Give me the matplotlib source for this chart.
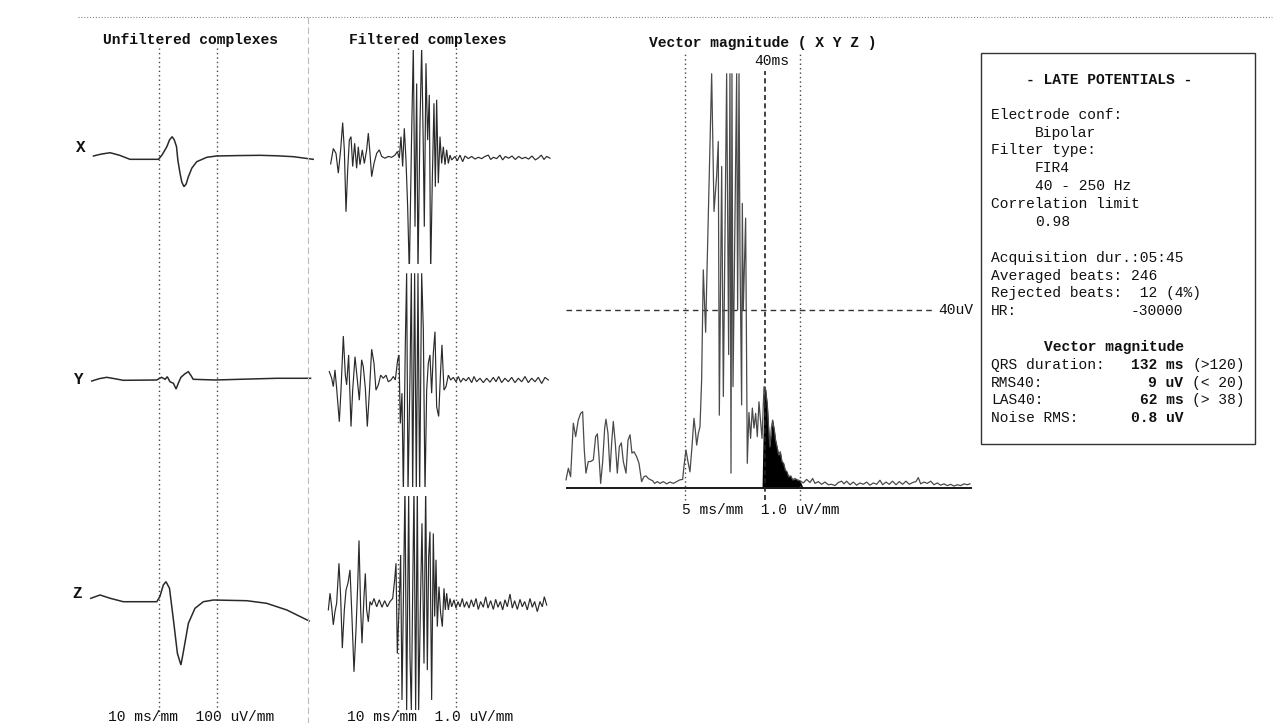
import matplotlib
matplotlib.use("Agg")
import matplotlib.pyplot as plt
from matplotlib.lines import Line2D
from matplotlib.patches import Rectangle

# ---------------- data (time in ms from QRS onset, amplitude in uV) ----------------
qrs_duration_ms = 132
las_window_ms = 40
threshold_uv = 40

unf_x = [(-148, 46), (-130, 90), (-110, 120), (-88, 60), (-65, -30), (-30, -30), (0, -30),
         (8, 68), (19, 257), (25, 410), (31, 485), (36, 410), (41, 257), (44, -46), (49, -348),
         (53, -546), (58, -653), (63, -590), (68, -426), (76, -228), (87, -84), (110, 16),
         (132, 46), (180, 55), (231, 61), (270, 50), (307, 30), (352, -30)]
unf_y = [(-152, -23), (-135, 30), (-118, 61), (-100, 30), (-80, -7), (-4, 0), (7, 61), (15, 16),
         (20, 75), (26, -39), (34, -75), (40, -205), (45, -75), (51, 61), (60, 140), (68, 189),
         (74, 100), (79, 16), (129, 0), (185, 16), (269, 39), (346, 39)]
unf_z = [(-154, 73), (-133, 148), (-110, 73), (-80, -5), (-4, -5), (3, 109), (11, 376), (17, 451),
         (25, 300), (34, -421), (43, -1179), (51, -1445), (56, -1179), (68, -496), (83, -155),
         (102, -5), (125, 34), (201, 18), (246, -41), (292, -193), (343, -444)]

filt_x = [(-152.1, -1.5), (-146.1, 2.0), (-140.0, 0.9), (-134.7, -3.6), (-129.4, 1.7), (-124.8, 7.9),
          (-121.0, 1.7), (-117.2, -12.4), (-113.4, -2.9), (-109.6, 3.9), (-105.8, 4.7), (-102.0, -2.1),
          (-97.5, 3.2), (-93.0, -2.5), (-89.2, 2.4), (-85.4, -1.7), (-80.1, 1.7), (-75.5, -1.4),
          (-70.2, 1.7), (-66.4, 5.5), (-62.6, 0.9), (-58.8, -4.4), (-53.5, -1.4), (-47.4, 0.9),
          (-41.4, 1.7), (-36.1, 0.2), (-28.5, -0.2), (-20.9, 0.2), (-13.3, 0.0), (-5.7, 0.5),
          (-0.4, 1.3), (4.1, -0.2), (7.9, 4.7), (11.7, -2.1), (15.5, 6.6), (19.3, -0.6), (23.1, -11.2),
          (26.9, -26.4), (32.2, 5.5), (36.0, 25.2), (39.8, -15.8), (43.6, 16.8), (46.6, -26.4),
          (51.2, 7.7), (55.0, 25.2), (58.8, 1.7), (61.0, -15.8), (64.8, 21.4), (68.6, 3.9),
          (72.4, 14.2), (75.5, -26.4), (79.2, -5.2), (83.0, 12.3), (86.1, -6.7), (89.1, 13.1),
          (92.9, -5.9), (96.7, 4.7), (100.5, -1.4), (104.3, 2.4), (108.1, -1.7), (111.9, 1.7),
          (115.7, -1.4), (119.5, 0.5), (123.3, -0.6), (130.8, 0.2), (136.1, -0.8), (142.2, 0.5),
          (148.3, -1.0), (153.6, 0.3), (161.2, -0.3), (168.8, 0.2), (176.4, -0.4), (183.9, 0.0),
          (191.5, -0.3), (199.1, 0.2), (206.7, 0.5), (212.0, -0.5), (218.1, 0.0), (225.7, -0.3),
          (233.2, 0.5), (239.3, -0.6), (245.4, 0.2), (253.0, -0.2), (260.6, 0.3), (268.1, -0.5),
          (275.7, 0.2), (283.3, -0.3), (290.9, 0.0), (298.5, -0.4), (306.1, 0.3), (313.7, -0.6),
          (321.2, -0.1), (327.3, 0.5), (333.4, -0.5), (339.5, 0.2), (347.0, -0.2)]
filt_y = [(-155.2, 1.9), (-149.8, 0.4), (-146.1, -1.5), (-142.3, 2.3), (-138.5, -1.9), (-132.4, -9.5),
          (-128.6, -2.3), (-123.3, 10.0), (-118.7, 1.1), (-115.7, -1.1), (-111.2, 5.7), (-105.8, -10.6),
          (-102.0, -2.3), (-96.7, 5.3), (-91.4, 0.0), (-86.9, -4.6), (-81.6, 4.6), (-77.8, 3.0),
          (-73.2, -1.9), (-68.7, -10.6), (-64.1, -3.0), (-58.8, 7.0), (-53.5, 3.8), (-49.0, -2.3),
          (-43.6, -1.1), (-38.3, 1.1), (-32.3, 0.4), (-26.2, 1.1), (-20.9, -0.4), (-14.8, 0.0),
          (-9.5, 0.8), (-5.0, 0.0), (0.4, 4.6), (3.4, 5.7), (6.4, -9.9), (10.2, -3.0), (13.3, -25.8),
          (17.8, 8.3), (20.8, 24.3), (23.9, -25.8), (28.4, 0.8), (31.5, 24.3), (34.5, -25.8),
          (39.0, 24.3), (42.8, -25.8), (46.6, 24.3), (50.4, -25.8), (55.0, 24.3), (58.8, 11.4),
          (62.6, -25.8), (66.4, -2.3), (70.1, 3.8), (73.9, 5.7), (77.7, -3.0), (81.5, 6.1),
          (85.3, 11.0), (89.1, -6.1), (93.7, -8.3), (98.2, 2.3), (101.2, 8.0), (105.8, -2.3),
          (110.4, -1.5), (115.7, 1.1), (121.0, 0.0), (127.0, 0.6), (133.1, -0.4), (138.4, 0.8),
          (143.7, -0.5), (149.8, 0.4), (155.9, -0.2), (161.9, 0.6), (168.8, -0.6), (174.1, 0.8),
          (180.1, -0.4), (187.7, 0.4), (195.3, -0.6), (202.9, 0.4), (210.5, -0.5), (218.1, 0.6),
          (224.1, -0.4), (230.2, 0.8), (237.0, -0.6), (244.6, 0.4), (252.2, -0.4), (259.8, 0.6),
          (267.4, -0.6), (275.0, 0.4), (282.6, -0.4), (290.1, 0.8), (297.7, -0.6), (305.3, 0.4),
          (312.9, -0.4), (320.5, 0.6), (328.1, -0.8), (335.7, 0.6), (343.2, 0.0)]
filt_z = [(-157.4, -1.5), (-153.6, 2.3), (-149.8, -0.8), (-146.1, -4.9), (-142.3, -1.9), (-138.5, 0.0),
          (-133.2, 9.1), (-129.4, 1.5), (-125.6, -10.2), (-121.0, -1.5), (-117.2, 3.0), (-112.7, 4.6),
          (-108.1, 7.6), (-104.3, -1.5), (-99.0, -15.6), (-94.5, -6.1), (-90.7, 3.8), (-87.6, 14.3),
          (-83.8, -1.5), (-80.8, -9.1), (-76.3, 1.5), (-73.2, 6.8), (-70.2, -1.5), (-66.4, -4.2),
          (-62.6, 0.4), (-58.8, -0.4), (-53.5, 1.1), (-47.4, -0.8), (-41.4, 0.8), (-35.3, -0.9),
          (-29.2, 0.6), (-23.2, -0.8), (-17.1, 0.4), (-11.0, 1.1), (-6.5, 5.3), (-3.4, 9.1),
          (-0.4, -11.4), (3.4, -1.5), (7.2, 11.0), (10.2, -22.0), (13.3, 0.0), (17.0, 26.9),
          (20.8, -24.3), (25.4, 24.7), (28.4, -12.1), (31.5, -24.3), (34.5, 2.3), (37.5, 26.9),
          (41.3, -24.3), (45.1, 26.9), (48.1, -24.3), (52.7, 2.3), (55.7, 18.2), (60.3, -13.7),
          (64.1, 26.9), (67.9, -15.2), (70.9, 10.6), (73.9, 16.3), (77.7, -22.0), (81.5, 15.9),
          (84.6, -3.0), (87.6, 9.9), (90.6, -5.3), (94.4, 3.8), (98.2, -2.3), (102.0, -5.3),
          (105.8, 3.4), (108.8, -1.5), (111.9, 2.3), (115.7, -1.5), (119.5, 1.1), (123.3, -0.8),
          (128.6, 0.8), (133.1, -1.1), (137.7, 0.4), (142.2, -0.8), (147.5, 1.1), (152.1, -0.9),
          (157.4, 0.4), (162.7, -1.1), (168.0, 0.8), (173.3, -0.8), (178.6, 1.1), (183.9, -1.4),
          (189.2, 0.4), (195.3, -0.9), (200.6, 1.5), (205.9, -1.1), (212.0, 0.6), (218.1, -1.4),
          (223.4, 0.9), (228.7, -0.9), (234.0, 0.4), (239.3, -1.5), (244.6, 0.8), (249.9, -0.8),
          (256.0, 2.1), (261.3, -1.1), (266.6, 0.6), (272.7, -1.4), (278.8, 0.9), (284.0, -0.8),
          (289.4, 0.4), (295.4, -1.5), (301.5, 1.1), (306.8, -0.9), (312.1, 0.4), (318.2, -1.9),
          (324.3, 0.4), (329.6, -0.8), (334.1, 1.5), (339.5, -0.4)]

vector_mag = [(-136.6, 1.9), (-133.9, 4.5), (-131.3, 2.6), (-128.2, 14.6), (-125.5, 11.6), (-122.5, 15.3),
              (-119.8, 16.8), (-117.5, 17.2), (-115.6, 8.6), (-113.7, 3.4), (-111.0, 6.0), (-108.3, 6.0),
              (-105.2, 6.4), (-102.6, 11.6), (-100.6, 12.2), (-98.7, 7.1), (-96.8, 1.1), (-94.5, 6.0),
              (-92.2, 13.5), (-90.7, 15.5), (-88.4, 12.3), (-86.1, 3.7), (-84.2, 10.1), (-82.3, 15.0),
              (-80.0, 10.1), (-77.7, 3.4), (-75.4, 9.3), (-73.1, 10.2), (-70.8, 6.0), (-67.7, 3.4),
              (-65.4, 10.8), (-63.1, 12.0), (-60.9, 7.9), (-58.6, 8.2), (-55.5, 7.1), (-52.8, 5.6),
              (-49.8, 1.5), (-47.1, 2.6), (-44.8, 2.8), (-42.1, 2.2), (-39.4, 1.9), (-37.1, 1.7),
              (-34.8, 1.1), (-31.8, 1.5), (-28.7, 1.1), (-24.9, 1.5), (-21.1, 1.0), (-17.2, 1.4),
              (-13.4, 1.1), (-9.6, 1.5), (-5.8, 1.9), (-2.7, 2.0), (-1.2, 4.9), (1.1, 8.6), (3.4, 6.0),
              (5.7, 3.7), (8.0, 9.3), (10.3, 15.7), (11.8, 13.1), (13.4, 9.7), (15.3, 12.3), (17.2, 13.8),
              (19.1, 24.3), (21.0, 49.0), (23.7, 35.0), (24.8, 45.0), (30.6, 93.0), (33.3, 62.1),
              (36.3, 70.0), (38.2, 77.8), (39.4, 16.4), (42.1, 72.2), (44.0, 20.6), (47.8, 93.0),
              (50.1, 30.0), (51.6, 93.0), (52.8, 3.4), (53.9, 93.0), (55.1, 22.8), (59.3, 93.0),
              (60.4, 40.0), (62.0, 93.0), (63.1, 52.7), (65.0, 18.7), (65.8, 63.9), (66.9, 40.0),
              (69.6, 60.6), (71.5, 5.6), (73.4, 17.0), (75.3, 11.2), (77.3, 18.0), (79.2, 13.5),
              (81.1, 16.8), (83.0, 11.6), (84.9, 19.4), (86.8, 15.0), (88.4, 11.2), (90.7, 22.8),
              (92.6, 22.1), (94.5, 18.7), (96.4, 12.3), (97.5, 9.3), (99.1, 13.5), (100.6, 15.3),
              (102.5, 13.1), (104.0, 10.8), (106.0, 9.0), (107.5, 7.5), (109.4, 8.2), (111.3, 6.0),
              (113.2, 5.6), (115.1, 4.1), (117.1, 3.7), (119.0, 2.6), (121.3, 2.8), (123.6, 1.9),
              (126.2, 2.2), (128.9, 1.9), (132.0, 1.7), (135.8, 1.2), (139.6, 2.0), (143.5, 1.3),
              (146.5, 2.2), (149.2, 1.1), (153.0, 1.5), (156.8, 0.9), (160.7, 1.4), (164.5, 0.8),
              (168.3, 0.9), (172.1, 0.6), (176.0, 1.3), (179.8, 1.6), (182.5, 1.0), (185.5, 1.6),
              (189.4, 0.8), (193.2, 1.4), (197.0, 0.7), (200.8, 1.2), (204.7, 0.9), (208.5, 1.4),
              (212.3, 0.7), (216.1, 1.2), (220.0, 0.9), (223.8, 1.8), (226.9, 0.8), (230.7, 1.4),
              (234.5, 0.9), (238.3, 1.6), (242.2, 0.8), (246.0, 1.5), (249.8, 0.9), (253.6, 1.6),
              (257.5, 0.9), (261.3, 1.3), (265.1, 1.5), (267.8, 2.4), (270.5, 1.0), (274.3, 1.4),
              (278.1, 1.1), (282.0, 1.6), (285.8, 0.8), (289.6, 1.2), (293.4, 0.7), (297.3, 1.0),
              (301.1, 0.6), (304.9, 0.9), (308.7, 0.5), (312.6, 0.8), (316.4, 0.6), (320.2, 1.0),
              (324.0, 0.8), (327.1, 1.0)]

lead_names = ["X", "Y", "Z"]
titles = ["Unfiltered complexes", "Filtered complexes", "Vector magnitude ( X Y Z )"]
scale_labels = ["10 ms/mm  100 uV/mm", "10 ms/mm  1.0 uV/mm", "5 ms/mm  1.0 uV/mm"]

report_lines = [
    (80, [(4, "- LATE POTENTIALS -", True)]),
    (115, [(0, "Electrode conf:", False)]),
    (133, [(5, "Bipolar", False)]),
    (150, [(0, "Filter type:", False)]),
    (168, [(5, "FIR4", False)]),
    (186, [(5, "40 - 250 Hz", False)]),
    (204, [(0, "Correlation limit", False)]),
    (222, [(5, "0.98", False)]),
    (258, [(0, "Acquisition dur.:05:45", False)]),
    (276, [(0, "Averaged beats: 246", False)]),
    (293, [(0, "Rejected beats:  12 (4%)", False)]),
    (311, [(0, "HR:", False), (16, "-30000", False)]),
    (347, [(6, "Vector magnitude", True)]),
    (365, [(0, "QRS duration:", False), (16, "132 ms", True), (23, "(>120)", False)]),
    (383, [(0, "RMS40:", False), (18, "9 uV", True), (23, "(< 20)", False)]),
    (400, [(0, "LAS40:", False), (17, "62 ms", True), (23, "(> 38)", False)]),
    (418, [(0, "Noise RMS:", False), (16, "0.8 uV", True)]),
]

# ---------------- layout ----------------
W, H = 1283, 723
fig = plt.figure(figsize=(W / 100, H / 100), dpi=100)
fig.patch.set_facecolor("white")
FONT = "Liberation Mono"
FS = 10.5
INK = "#2a2a2a"


def rect(l, t, r, b):
    return [l / W, 1 - b / H, (r - l) / W, (b - t) / H]


def fxy(px, py):
    return px / W, 1 - py / H


def unzip(pts):
    return [p[0] for p in pts], [p[1] for p in pts]


def new_ax(l, t, r, b):
    ax = fig.add_axes(rect(l, t, r, b))
    ax.axis("off")
    ax.patch.set_alpha(0)
    return ax


dot_style = (0, (1, 2.2))

# decorative frame lines
fig.add_artist(Line2D([78 / W, 1272 / W], [1 - 17 / H] * 2, color="#888888", lw=0.8,
                      linestyle=(0, (1, 1.6))))
fig.add_artist(Line2D([308 / W] * 2, [1 - 17 / H, 0], color="#bbbbbb", lw=0.8,
                      linestyle=(0, (6, 3))))

# columns: (left px, right px, onset px, px per ms, uV per px, baselines, series)
columns = [
    (85, 318, 158.5, 0.4394, 22.76, [158, 380, 601.5], [unf_x, unf_y, unf_z], 1.1),
    (322, 556, 397.5, 0.4394, 0.2276, [157.3, 380, 603.3], [filt_x, filt_y, filt_z], 0.85),
]
half = 107
for ci, (l, r, onset, pxms, upx, bases, series, lw) in enumerate(columns):
    xlim = ((l - onset) / pxms, (r - onset) / pxms)
    colax = new_ax(l, 48, r, 716)
    colax.set_xlim(*xlim)
    colax.set_ylim(0, 1)
    for tm in (0, qrs_duration_ms):
        colax.axvline(tm, color="#444444", lw=1.0, linestyle=dot_style)
    for base, pts in zip(bases, series):
        ax = new_ax(l, base - half, r, base + half)
        ax.set_xlim(*xlim)
        ax.set_ylim(-half * upx, half * upx)
        t, a = unzip(pts)
        ax.plot(t, a, color=INK, lw=lw, solid_joinstyle="miter")

# lead labels
for name, (px, py) in zip(lead_names, [(81, 147), (79, 380), (77, 593)]):
    fig.text(*fxy(px, py), name, family=FONT, fontsize=11.5, weight="bold",
             ha="center", va="center", color="#111111")

# titles
for txt, (px, py) in zip(titles, [(190.5, 40), (428, 40), (762.5, 43)]):
    fig.text(*fxy(px, py), txt, family=FONT, fontsize=FS, weight="bold",
             ha="center", va="center", color="#111111")

# scale labels under columns
for txt, (px, py) in zip(scale_labels[:2], [(108, 717), (347, 717)]):
    fig.text(*fxy(px, py), txt, family=FONT, fontsize=FS, ha="left", va="center",
             color="#111111")

# ---------------- vector magnitude panel ----------------
v_onset, v_pxms, v_base, v_pxuv = 685, 0.8712, 488.3, 4.458
vax = new_ax(560, 50, 980, 525)
vax.set_xlim((560 - v_onset) / v_pxms, (980 - v_onset) / v_pxms)
vax.set_ylim((v_base - 525) / v_pxuv, (v_base - 50) / v_pxuv)
vt, va = unzip(vector_mag)
t_start = vt[0]
vax.hlines(0, t_start, 330, color="#1a1a1a", lw=1.4)
vax.hlines(threshold_uv, t_start, 287, color="#333333", lw=1.0, linestyle=(0, (4, 3)))
for tm in (0, qrs_duration_ms):
    vax.vlines(tm, -2.6, 97.8, color="#444444", lw=1.0, linestyle=dot_style)
las_start = qrs_duration_ms - las_window_ms
vax.vlines(las_start, -2.6, 93.5, color="#222222", lw=1.2, linestyle=(0, (3, 2)))
vax.fill_between(vt, 0, va, where=[(x >= las_start - 1.5) and (x <= qrs_duration_ms) for x in vt],
                 color="black", lw=0, interpolate=True)
vax.plot(vt, va, color="#4a4a4a", lw=0.9)
vax.text(100, 95.8, f"{las_window_ms}ms", family=FONT, fontsize=FS, ha="center", va="center",
         color="#111111")
vax.text(290.4, threshold_uv, f"{threshold_uv}uV", family=FONT, fontsize=FS, ha="left",
         va="center", color="#111111")
vax.text(-3.4, -4.9, scale_labels[2], family=FONT, fontsize=FS, ha="left", va="center",
         color="#111111")

# ---------------- report box ----------------
fig.add_artist(Rectangle(fxy(981, 444), 274 / W, (444 - 53) / H, fill=False,
                         edgecolor="#333333", lw=1.0, transform=fig.transFigure))
x0, cw = 991, 0.6 * FS * 100 / 72
for py, parts in report_lines:
    for col, txt, bold in parts:
        fig.text(*fxy(x0 + col * cw, py), txt, family=FONT, fontsize=FS,
                 weight="bold" if bold else "normal", ha="left", va="center", color="#111111")

fig.savefig("out.png", dpi=100, facecolor="white")
